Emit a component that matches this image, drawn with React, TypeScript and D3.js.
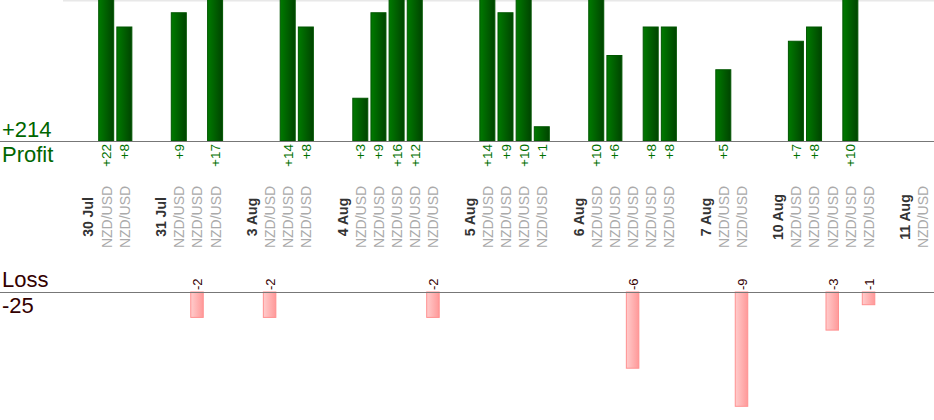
// App.tsx
import { useEffect, useRef } from 'react';
import * as d3 from 'd3';

// Trading days shown along the axis
const dates = ["30 Jul", "31 Jul", "3 Aug", "4 Aug", "5 Aug", "6 Aug", "7 Aug", "10 Aug", "11 Aug"];
// Result of each trade, grouped per day (0 = still open, no bar)
const results = [
  [22, 8],
  [9, -2, 17],
  [-2, 14, 8],
  [3, 9, 16, 12, -2],
  [14, 9, 10, 1],
  [10, 6, -6, 8, 8],
  [5, -9],
  [7, 8, -3, 10, -1],
  [0],
];
const pair = "NZD/USD";
const totalProfit = "+214";
const totalLoss = "-25";

type Slot = { kind: 'date' | 'trade' | 'gap'; label: string; value: number };

const App: React.FC = () => {
  const ref = useRef<SVGSVGElement | null>(null);

  useEffect(() => {
    const width = 934;
    const height = 420;
    const font = "'Liberation Sans', Arial, sans-serif";

    // Build the slot list: date, its trades, then an empty spacer
    const slots: Slot[] = [];
    dates.forEach((d, i) => {
      slots.push({ kind: 'date', label: d, value: 0 });
      results[i].forEach((v) => slots.push({ kind: 'trade', label: pair, value: v }));
      if (i < dates.length - 1) slots.push({ kind: 'gap', label: '', value: 0 });
    });

    const step = 18.15;
    const first = 88.05;
    const x = d3.scaleBand<number>()
      .domain(slots.map((_, i) => i))
      .range([first - step / 2, first - step / 2 + step * slots.length])
      .paddingInner(0)
      .paddingOuter(0);
    const cx = (i: number) => (x(i) || 0) + x.bandwidth() / 2;

    const profitBase = 141;
    const lossBase = 292;
    const yProfit = d3.scaleLinear().domain([0, 22]).range([profitBase, profitBase - 22 * 14.25]);
    const yLoss = d3.scaleLinear().domain([0, 9]).range([lossBase, lossBase + 9 * 12.7]);

    const svg = d3.select(ref.current)
      .attr("width", width)
      .attr("height", height);
    svg.selectAll("*").remove();

    // gradients for the bars
    const defs = svg.append("defs");
    const gp = defs.append("linearGradient").attr("id", "gProfit").attr("x1", 0).attr("x2", 1).attr("y1", 0).attr("y2", 0);
    gp.append("stop").attr("offset", "0%").attr("stop-color", "#007a00");
    gp.append("stop").attr("offset", "100%").attr("stop-color", "#004400");
    const gl = defs.append("linearGradient").attr("id", "gLoss").attr("x1", 0).attr("x2", 1).attr("y1", 0).attr("y2", 0);
    gl.append("stop").attr("offset", "0%").attr("stop-color", "#ffcccc");
    gl.append("stop").attr("offset", "100%").attr("stop-color", "#ff9999");

    // faint top border
    svg.append("line")
      .attr("x1", 63).attr("x2", width).attr("y1", 0.5).attr("y2", 0.5)
      .attr("stroke", "#e8e8e8").attr("stroke-width", 2);

    const trades = slots.map((s, i) => ({ ...s, i })).filter((s) => s.kind === 'trade');
    const wins = trades.filter((t) => t.value > 0);
    const losses = trades.filter((t) => t.value < 0);

    // profit bars
    svg.append("g")
      .selectAll("rect")
      .data(wins)
      .enter()
      .append("rect")
      .attr("x", (d) => cx(d.i) - 7.5)
      .attr("width", 15)
      .attr("y", (d) => yProfit(d.value))
      .attr("height", (d) => profitBase - yProfit(d.value))
      .attr("fill", "url(#gProfit)")
      .attr("stroke", "#005500")
      .attr("stroke-width", 1);

    // loss bars
    svg.append("g")
      .selectAll("rect")
      .data(losses)
      .enter()
      .append("rect")
      .attr("x", (d) => cx(d.i) - 6.2)
      .attr("width", 12.5)
      .attr("y", lossBase)
      .attr("height", (d) => yLoss(-d.value) - lossBase)
      .attr("fill", "url(#gLoss)")
      .attr("stroke", "#ff9090")
      .attr("stroke-width", 1);

    // baselines
    svg.append("line").attr("x1", 0).attr("x2", width).attr("y1", profitBase + 0.5).attr("y2", profitBase + 0.5)
      .attr("stroke", "#777").attr("stroke-width", 1.2);
    svg.append("line").attr("x1", 0).attr("x2", width).attr("y1", lossBase + 0.5).attr("y2", lossBase + 0.5)
      .attr("stroke", "#777").attr("stroke-width", 1.2);

    // value labels under the profit line
    svg.append("g")
      .selectAll("text")
      .data(wins)
      .enter()
      .append("text")
      .attr("transform", (d) => `translate(${cx(d.i) + 5},${profitBase + 3}) rotate(-90)`)
      .attr("text-anchor", "end")
      .style("font-family", font)
      .style("font-size", "13.5px")
      .attr("fill", "#007000")
      .text((d) => "+" + d.value);

    // value labels above the loss line
    svg.append("g")
      .selectAll("text")
      .data(losses)
      .enter()
      .append("text")
      .attr("transform", (d) => `translate(${cx(d.i) + 5.5},${lossBase - 2}) rotate(-90)`)
      .attr("text-anchor", "start")
      .style("font-family", font)
      .style("font-size", "13px")
      .attr("fill", "#330000")
      .text((d) => String(d.value));

    // category labels (dates bold, trades grey)
    svg.append("g")
      .selectAll("text")
      .data(slots.map((s, i) => ({ ...s, i })).filter((s) => s.kind !== 'gap'))
      .enter()
      .append("text")
      .attr("transform", (d) => `translate(${cx(d.i) + 5.4},217) rotate(-90)`)
      .attr("text-anchor", "middle")
      .style("font-family", font)
      .style("font-size", "14px")
      .style("font-weight", (d) => (d.kind === 'date' ? "bold" : "normal"))
      .attr("fill", (d) => (d.kind === 'date' ? "#333" : "#aaa"))
      .text((d) => d.label);

    // totals on the left
    const side = [
      { t: totalProfit, y: 137, c: "#006600" },
      { t: "Profit", y: 162, c: "#006600" },
      { t: "Loss", y: 287, c: "#330000" },
      { t: totalLoss, y: 313, c: "#330000" },
    ];
    svg.append("g")
      .selectAll("text")
      .data(side)
      .enter()
      .append("text")
      .attr("x", 2)
      .attr("y", (d) => d.y)
      .style("font-family", font)
      .style("font-size", "22px")
      .attr("fill", (d) => d.c)
      .text((d) => d.t);
  }, []);

  return (
    <svg ref={ref} style={{ position: 'absolute', left: 0, top: 0, overflow: 'hidden', background: '#fff' }}></svg>
  );
};

export default App;
